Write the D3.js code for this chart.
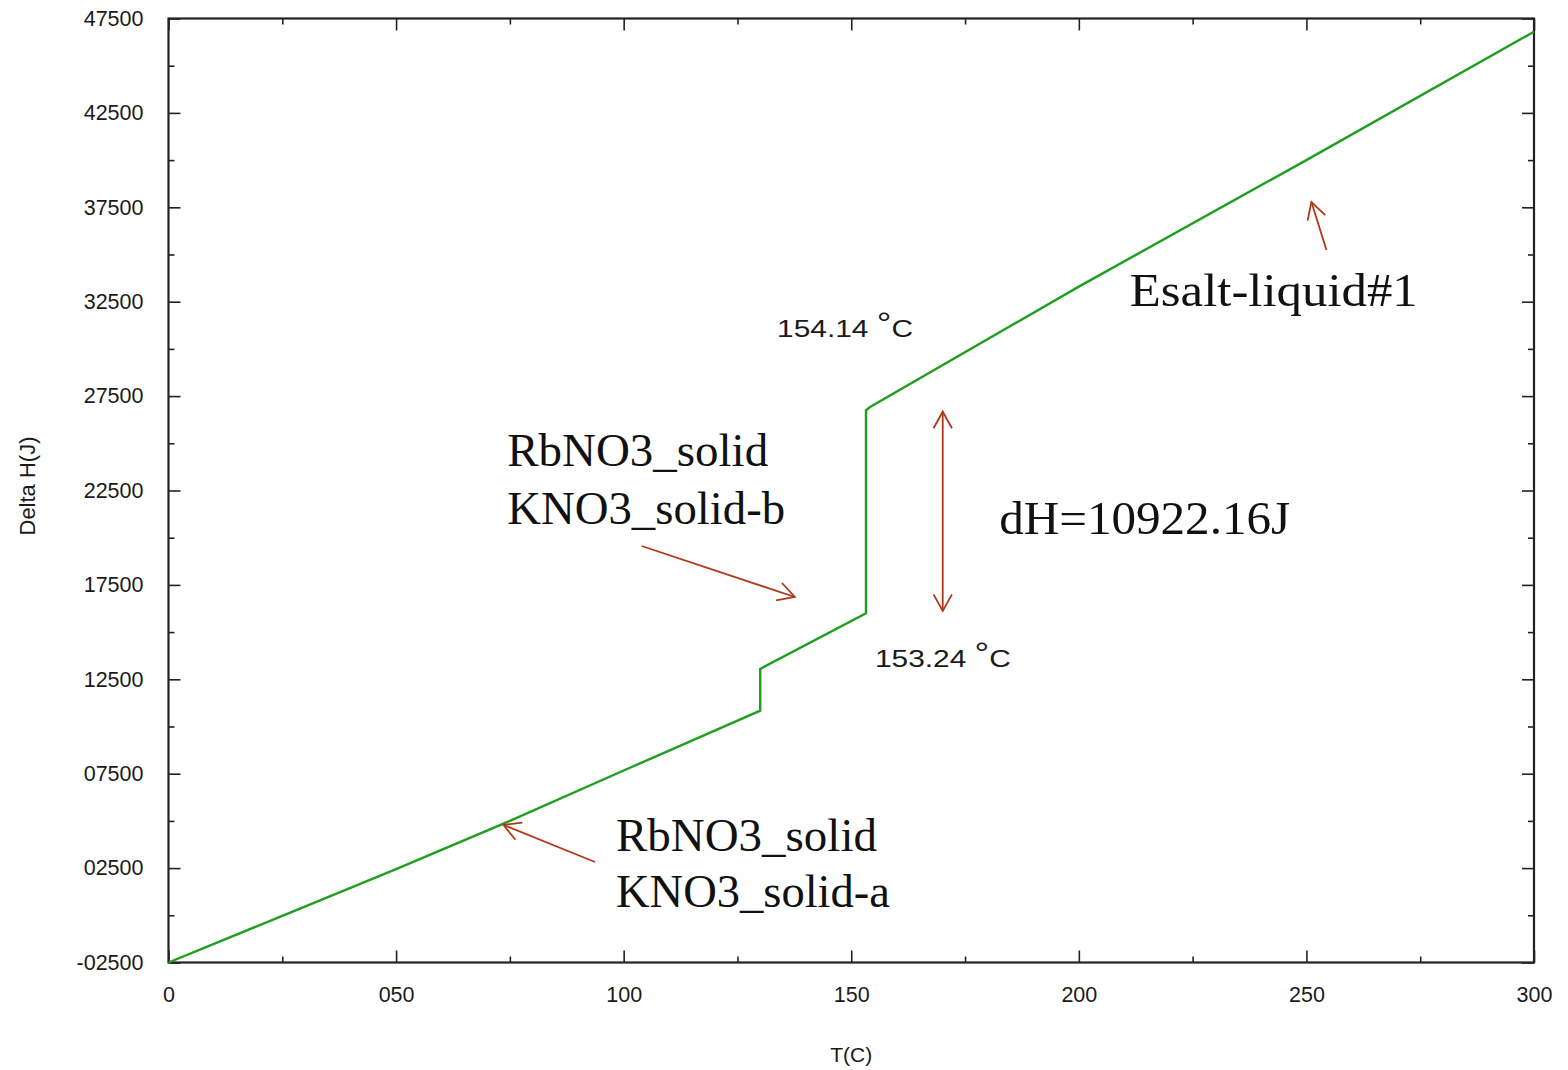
<!DOCTYPE html>
<html>
<head>
<meta charset="utf-8">
<script src="https://cdn.jsdelivr.net/npm/d3@7"></script>
<style>
  html, body { margin: 0; padding: 0; background: #fff; }
  svg { display: block; }
</style>
</head>
<body>
<svg id="chart" width="1568" height="1070"></svg>
<script>
// Enthalpy change of the RbNO3-KNO3 system versus temperature
const temperature = [0, 25, 50, 75, 100, 115, 130, 130, 153.24, 153.24, 154.14, 200, 250, 300];
const deltaH      = [-2500, -30, 2450, 5000, 7670, 9250, 10840, 13050, 16000, 26750, 26922.16, 33300, 40000, 46800];

const xTickValues = [0, 50, 100, 150, 200, 250, 300];
const xTickLabels = ["0", "050", "100", "150", "200", "250", "300"];
const yTickValues = [-2500, 2500, 7500, 12500, 17500, 22500, 27500, 32500, 37500, 42500, 47500];
const yTickLabels = ["-02500", "02500", "07500", "12500", "17500", "22500", "27500", "32500", "37500", "42500", "47500"];

// Phase annotations (data coordinates)
const phaseLabels = [
  { lines: ["RbNO3_solid", "KNO3_solid-b"], T: 74.4, H: [23798, 20725], widths: [261, 278] },
  { lines: ["RbNO3_solid", "KNO3_solid-a"], T: 98.3, H: [3406, 440], widths: [261, 274] },
  { lines: ["Esalt-liquid#1"], T: 211.2, H: [32272], widths: [288] },
  { lines: ["dH=10922.16J"], T: 182.5, H: [20196], widths: [291] }
];
const arrows = [
  { from: [103.96, 19560], to: [137.6, 16860], both: false },
  { from: [93.7, 2823], to: [73.6, 4783], both: false },
  { from: [254.4, 35238], to: [251.1, 37781], both: false },
  { from: [170.1, 16118], to: [170.1, 26674], both: true }
];
const tempLabels = [
  { value: "154.14", T: 133.7, H: 30630 },
  { value: "153.24", T: 155.2, H: 13151 }
];

const svg = d3.select("#chart");
const plotLeft = 168.5, plotRight = 1534, plotTop = 18.5, plotBottom = 962.5;

const x = d3.scaleLinear().domain([0, 300]).range([plotLeft, plotRight]);
const y = d3.scaleLinear().domain([-2500, 47500]).range([plotBottom, plotTop]);

const axisColor = "#222";
const sans = "'Liberation Sans', Arial, sans-serif";

// Minor tick positions
const xMinor = d3.range(25, 300, 50);
const yMinor = d3.range(0, 47500, 5000);

function styleAxis(g) {
  g.select(".domain").remove();
  g.selectAll("line").attr("stroke", axisColor).attr("stroke-width", 1.6);
  g.selectAll("text").attr("fill", "#1a1a1a").attr("font-family", sans).attr("font-size", 21.5);
}

// Bottom axis: major with labels
svg.append("g").attr("transform", `translate(0,${plotBottom})`)
  .call(d3.axisBottom(x).tickValues(xTickValues).tickSize(-12).tickPadding(24)
    .tickFormat((d, i) => xTickLabels[i]))
  .call(styleAxis);
svg.append("g").attr("transform", `translate(0,${plotBottom})`)
  .call(d3.axisBottom(x).tickValues(xMinor).tickSize(-6).tickFormat(""))
  .call(styleAxis);
// Top axis mirror ticks
svg.append("g").attr("transform", `translate(0,${plotTop})`)
  .call(d3.axisTop(x).tickValues(xTickValues).tickSize(-12).tickFormat(""))
  .call(styleAxis);
svg.append("g").attr("transform", `translate(0,${plotTop})`)
  .call(d3.axisTop(x).tickValues(xMinor).tickSize(-6).tickFormat(""))
  .call(styleAxis);

// Left axis
svg.append("g").attr("transform", `translate(${plotLeft},0)`)
  .call(d3.axisLeft(y).tickValues(yTickValues).tickSize(-12).tickPadding(25)
    .tickFormat((d, i) => yTickLabels[i]))
  .call(styleAxis);
svg.append("g").attr("transform", `translate(${plotLeft},0)`)
  .call(d3.axisLeft(y).tickValues(yMinor).tickSize(-6).tickFormat(""))
  .call(styleAxis);
// Right axis mirror ticks
svg.append("g").attr("transform", `translate(${plotRight},0)`)
  .call(d3.axisRight(y).tickValues(yTickValues).tickSize(-12).tickFormat(""))
  .call(styleAxis);
svg.append("g").attr("transform", `translate(${plotRight},0)`)
  .call(d3.axisRight(y).tickValues(yMinor).tickSize(-6).tickFormat(""))
  .call(styleAxis);

// Frame
svg.append("rect")
  .attr("x", plotLeft).attr("y", plotTop)
  .attr("width", plotRight - plotLeft).attr("height", plotBottom - plotTop)
  .attr("fill", "none").attr("stroke", axisColor).attr("stroke-width", 2.2);

// Axis titles
svg.append("text")
  .attr("x", (plotLeft + plotRight) / 2).attr("y", 1062)
  .attr("text-anchor", "middle")
  .attr("font-family", sans).attr("font-size", 21).attr("fill", "#1a1a1a")
  .text("T(C)");
svg.append("text")
  .attr("transform", `translate(35,486) rotate(-90)`)
  .attr("text-anchor", "middle")
  .attr("font-family", sans).attr("font-size", 22).attr("fill", "#1a1a1a")
  .text("Delta H(J)");

// Enthalpy curve
const points = temperature.map((t, i) => [t, deltaH[i]]);
svg.append("path")
  .datum(points)
  .attr("fill", "none")
  .attr("stroke", "#1f9e1f")
  .attr("stroke-width", 2.4)
  .attr("stroke-linejoin", "miter")
  .attr("d", d3.line().x(d => x(d[0])).y(d => y(d[1])));

// Transition temperature labels
tempLabels.forEach(l => {
  const t = svg.append("text")
    .attr("transform", `translate(${x(l.T)},${y(l.H)}) scale(1.22,1)`)
    .attr("font-family", sans).attr("font-size", 24.5).attr("fill", "#1a1a1a");
  t.append("tspan").text(l.value + " ");
  t.append("tspan").attr("font-size", 30).attr("dy", -4).text("°");
  t.append("tspan").attr("dy", 4).text("C");
});

// Arrows
const arrowColor = "#b0381a";
function head(g, tip, tail) {
  const ang = Math.atan2(tip[1] - tail[1], tip[0] - tail[0]);
  const len = 19, spread = Math.PI / 6.2;
  const p1 = [tip[0] - len * Math.cos(ang - spread), tip[1] - len * Math.sin(ang - spread)];
  const p2 = [tip[0] - len * Math.cos(ang + spread), tip[1] - len * Math.sin(ang + spread)];
  g.append("path")
    .attr("d", `M${p1[0]},${p1[1]}L${tip[0]},${tip[1]}L${p2[0]},${p2[1]}`)
    .attr("fill", "none").attr("stroke", arrowColor).attr("stroke-width", 1.8);
}
arrows.forEach(a => {
  const g = svg.append("g");
  const p0 = [x(a.from[0]), y(a.from[1])];
  const p1 = [x(a.to[0]), y(a.to[1])];
  g.append("line")
    .attr("x1", p0[0]).attr("y1", p0[1]).attr("x2", p1[0]).attr("y2", p1[1])
    .attr("stroke", arrowColor).attr("stroke-width", 1.8);
  head(g, p1, p0);
  if (a.both) head(g, p0, p1);
});

// Phase labels
phaseLabels.forEach(p => {
  p.lines.forEach((line, i) => {
    svg.append("text")
      .attr("x", x(p.T)).attr("y", y(p.H[i]))
      .attr("font-family", "'Liberation Serif', 'Times New Roman', serif")
      .attr("font-size", 47).attr("fill", "#111")
      .attr("textLength", p.widths[i]).attr("lengthAdjust", "spacingAndGlyphs")
      .text(line);
  });
});
</script>
</body>
</html>
